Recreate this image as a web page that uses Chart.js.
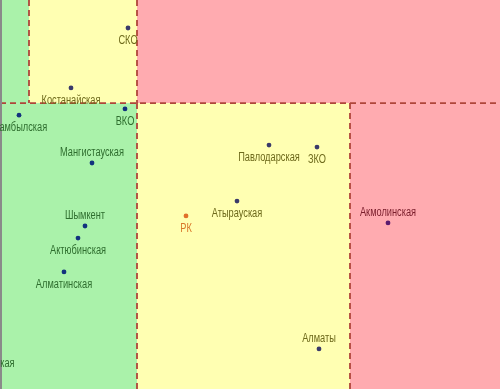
<!DOCTYPE html>
<html>
<head>
<meta charset="utf-8">
<script src="https://cdn.jsdelivr.net/npm/chart.js@4"></script>
<style>
  html, body { margin: 0; padding: 0; background: #fff; }
  #wrap { width: 500px; height: 389px; position: relative; }
</style>
</head>
<body>
<div id="wrap"><canvas id="chart"></canvas></div>
<script>
// regions and their coordinates on the chart plane
const regionNames = ['Кызылординская', 'Алматинская', 'Актюбинская', 'Шымкент', 'Мангистауская',
  'Жамбылская', 'ВКО', 'Костанайская', 'СКО', 'РК', 'Атырауская', 'Павлодарская', 'ЗКО',
  'Алматы', 'Акмолинская'];
const xValues = [-4.4, 12.8, 15.6, 17.0, 18.4, 3.8, 25.0, 14.2, 25.6, 37.2, 47.4, 53.8, 63.4, 63.8, 77.6];
const yValues = [9.8, 30.1, 38.8, 41.9, 58.1, 70.4, 72.0, 77.4, 92.8, 44.5, 48.3, 62.7, 62.2, 10.3, 42.7];
const labelSide = ['below', 'below', 'below', 'above', 'above', 'below', 'below', 'below',
  'below', 'below', 'below', 'below', 'below', 'above', 'above'];

// zone thresholds
const xSplitLow = [5.8, 27.4];   // above ySplit
const xSplitHigh = [27.4, 70];   // below ySplit
const ySplit = 73.5;

const ZONE = { green: '#aaf2aa', yellow: '#ffffb2', red: '#ffabb0' };
const TEXT = { green: '#2f6e2f', yellow: '#6e6a1c', red: '#7a1e2c' };
const DOT = { green: '#12327e', yellow: '#3a3a6a', red: '#5a1a6e' };

function zoneOf(x, y) {
  const s = y >= ySplit ? xSplitLow : xSplitHigh;
  if (x < s[0]) return 'green';
  if (x < s[1]) return 'yellow';
  return 'red';
}

const zonePlugin = {
  id: 'zones',
  beforeDatasetsDraw(chart) {
    const { ctx, chartArea: a, scales: { x, y } } = chart;
    const yS = y.getPixelForValue(ySplit);
    const col = v => x.getPixelForValue(v);
    ctx.save();
    const band = (top, bottom, s) => {
      ctx.fillStyle = ZONE.green; ctx.fillRect(a.left, top, col(s[0]) - a.left, bottom - top);
      ctx.fillStyle = ZONE.yellow; ctx.fillRect(col(s[0]), top, col(s[1]) - col(s[0]), bottom - top);
      ctx.fillStyle = ZONE.red; ctx.fillRect(col(s[1]), top, a.right - col(s[1]), bottom - top);
    };
    band(a.top, yS, xSplitLow);
    band(yS, a.bottom, xSplitHigh);

    ctx.strokeStyle = '#b0453a';
    ctx.lineWidth = 1.8;
    ctx.setLineDash([6, 4]);
    const line = (x1, y1, x2, y2) => { ctx.beginPath(); ctx.moveTo(x1, y1); ctx.lineTo(x2, y2); ctx.stroke(); };
    line(a.left, yS, a.right, yS);
    xSplitLow.forEach(v => line(col(v), a.top, col(v), yS));
    xSplitHigh.forEach(v => line(col(v), yS, col(v), a.bottom));
    ctx.setLineDash([]);

    ctx.fillStyle = '#8a8a8a';
    ctx.fillRect(a.left, a.top, 2, a.bottom - a.top);
    ctx.restore();
  },
  afterDatasetsDraw(chart) {
    const { ctx, scales: { x, y } } = chart;
    ctx.save();
    ctx.font = '12px "Liberation Sans", Arial, sans-serif';
    ctx.textAlign = 'center';
    ctx.textBaseline = 'middle';
    regionNames.forEach((name, i) => {
      const px = x.getPixelForValue(xValues[i]);
      const py = y.getPixelForValue(yValues[i]);
      const z = zoneOf(xValues[i], yValues[i]);
      ctx.fillStyle = name === 'РК' ? '#d9782a' : TEXT[z];
      const ty = labelSide[i] === 'above' ? py - 10.5 : py + 13;
      // narrow face: squeeze horizontally
      ctx.save();
      ctx.translate(px, ty);
      ctx.scale(0.77, 1);
      ctx.fillText(name, 0, 0);
      ctx.restore();
    });
    ctx.restore();
  }
};

const points = xValues.map((v, i) => ({ x: v, y: yValues[i] }));
const dotColors = regionNames.map((n, i) => n === 'РК' ? '#e0702a' : DOT[zoneOf(xValues[i], yValues[i])]);

new Chart(document.getElementById('chart'), {
  type: 'scatter',
  data: {
    datasets: [{
      label: 'Регионы',
      data: points,
      backgroundColor: dotColors,
      borderWidth: 0,
      pointRadius: 2.4,
    }],
  },
  options: {
    responsive: true,
    maintainAspectRatio: false,
    animation: false,
    layout: { padding: 0, autoPadding: false },
    plugins: { legend: { display: false }, tooltip: { enabled: false } },
    scales: {
      x: { display: false, min: 0, max: 100 },
      y: { display: false, min: 0, max: 100 },
    },
  },
  plugins: [zonePlugin],
});
</script>
</body>
</html>
